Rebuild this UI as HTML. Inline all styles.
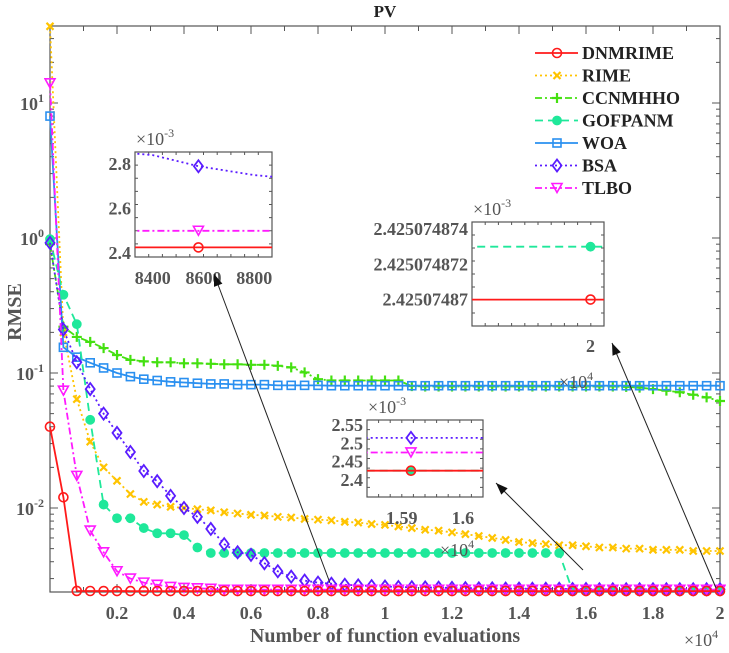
<!DOCTYPE html>
<html><head><meta charset="utf-8"><style>
html,body{margin:0;padding:0;background:#fff;}
svg{display:block;font-family:"Liberation Serif",serif;font-weight:bold;}
</style></head><body>
<svg id="chart" width="729" height="653" viewBox="0 0 729 653" xmlns="http://www.w3.org/2000/svg">
<rect width="729" height="653" fill="#fff"/>
<text x="385" y="17" text-anchor="middle" font-size="17" fill="#222">PV</text>
<g id="plot"></g>
<text x="385" y="642" text-anchor="middle" font-size="20" fill="#555">Number of function evaluations</text>
<text transform="translate(21,312) rotate(-90)" text-anchor="middle" font-size="20" fill="#555">RMSE</text>
<text x="684" y="646" font-size="18" fill="#555" font-weight="normal">×10<tspan dy="-8" font-size="12">4</tspan></text>
</svg>
<script>
const evals=[0,400,800,1200,1600,2000,2400,2800,3200,3600,4000,4400,4800,5200,5600,6000,6400,6800,7200,7600,8000,8400,8800,9200,9600,10000,10400,10800,11200,11600,12000,12400,12800,13200,13600,14000,14400,14800,15200,15600,16000,16400,16800,17200,17600,18000,18400,18800,19200,19600,20000];
const dnmrime=[0.040,0.012,0.00243,0.002428,0.002427,0.002426,0.002425,0.002425,0.002425,0.002425,0.002425,0.002425,0.002425,0.002425,0.002425,0.002425,0.002425,0.002425,0.002425,0.002425,0.002425,0.002425,0.002425,0.002425,0.002425,0.002425,0.002425,0.002425,0.002425,0.002425,0.002425,0.002425,0.002425,0.002425,0.002425,0.002425,0.002425,0.002425,0.002425,0.002425,0.002425,0.002425,0.002425,0.002425,0.002425,0.002425,0.002425,0.002425,0.002425,0.002425,0.002425];
const rime=[37,0.2,0.064,0.031,0.020,0.0159,0.0127,0.0111,0.0106,0.0102,0.0100,0.0098,0.0096,0.0093,0.0091,0.0089,0.0088,0.0086,0.0085,0.0083,0.0082,0.0081,0.0079,0.0078,0.0076,0.0075,0.0073,0.0071,0.0069,0.0068,0.0066,0.0064,0.0062,0.0060,0.0058,0.0056,0.0055,0.0054,0.0053,0.0053,0.0052,0.0051,0.0051,0.0050,0.0050,0.0049,0.0049,0.0049,0.0048,0.0048,0.0048];
const ccnmhho=[0.9,0.22,0.185,0.17,0.153,0.136,0.125,0.122,0.12,0.12,0.118,0.118,0.117,0.116,0.116,0.115,0.115,0.113,0.11,0.101,0.090,0.088,0.088,0.088,0.088,0.088,0.088,0.080,0.0795,0.0795,0.0795,0.0795,0.0795,0.0795,0.0795,0.0795,0.0795,0.0795,0.0795,0.0795,0.0795,0.0795,0.0795,0.079,0.078,0.076,0.074,0.072,0.069,0.066,0.062];
const gofpanm=[0.98,0.38,0.23,0.045,0.0106,0.0084,0.0084,0.0071,0.0065,0.0065,0.0063,0.0051,0.00464,0.00464,0.00464,0.00464,0.00464,0.00464,0.00464,0.00464,0.00464,0.00464,0.00464,0.00464,0.00464,0.00464,0.00464,0.00464,0.00464,0.00464,0.00464,0.00464,0.00464,0.00464,0.00464,0.00464,0.00464,0.00464,0.00464,0.002425,0.002425,0.002425,0.002425,0.002425,0.002425,0.002425,0.002425,0.002425,0.002425,0.002425,0.002425];
const woa=[8.0,0.155,0.131,0.119,0.109,0.100,0.094,0.090,0.088,0.086,0.085,0.084,0.083,0.083,0.082,0.082,0.082,0.081,0.081,0.081,0.081,0.0805,0.0805,0.0805,0.0805,0.0805,0.0805,0.0805,0.0805,0.0805,0.0805,0.0805,0.0805,0.0805,0.0805,0.0805,0.0805,0.0805,0.0805,0.0805,0.0805,0.0805,0.0805,0.0805,0.0805,0.0805,0.0805,0.0805,0.0805,0.0805,0.0805];
const bsa=[0.92,0.21,0.12,0.076,0.050,0.036,0.026,0.0188,0.0158,0.0123,0.0100,0.0086,0.0070,0.0054,0.0047,0.0045,0.0039,0.0034,0.0031,0.0029,0.0028,0.00275,0.0027,0.00267,0.00264,0.00262,0.0026,0.00259,0.00258,0.00257,0.00256,0.00255,0.00254,0.00254,0.00253,0.00253,0.00252,0.00252,0.00252,0.00251,0.00251,0.0025,0.0025,0.0025,0.0025,0.0025,0.0025,0.0025,0.0025,0.0025,0.0025];
const tlbo=[14,0.074,0.0173,0.0068,0.0047,0.0034,0.0030,0.0028,0.0027,0.0026,0.00256,0.00254,0.00252,0.00248,0.00248,0.00248,0.00248,0.00248,0.00248,0.00248,0.00248,0.00248,0.00248,0.00248,0.00248,0.00248,0.00248,0.00248,0.00248,0.00248,0.00248,0.00248,0.00248,0.00248,0.00248,0.00248,0.00248,0.00248,0.00248,0.00248,0.00248,0.00248,0.00248,0.00248,0.00248,0.00248,0.00248,0.00248,0.00248,0.00248,0.00248];
const seriesNames=["DNMRIME","RIME","CCNMHHO","GOFPANM","WOA","BSA","TLBO"];
const xTickValues=[2000,4000,6000,8000,10000,12000,14000,16000,18000,20000];
const xTickLabels=["0.2","0.4","0.6","0.8","1","1.2","1.4","1.6","1.8","2"];
const yTickExps=[-2,-1,0,1];
const inset1X=[8300,8400,8580,8800,8900];
const inset1Bsa=[2.85,2.84,2.79,2.75,2.74];
const inset1Tlbo=[2.50,2.50,2.50,2.50,2.50];
const inset1Dnm=[2.425,2.425,2.425,2.425,2.425];
const inset2X=[1.58,1.5915,1.61];
const inset2Bsa=[2.515,2.515,2.515];
const inset2Tlbo=[2.475,2.475,2.475];
const inset2Gof=[2.425,2.425,2.425];
const inset2Dnm=[2.425,2.425,2.425];
const inset3X=[14000,20000,21000];
const inset3Gof=[3.0,3.0,3.0];
const inset3Dnm=[0.0,0.0,0.0];

const NS="http://www.w3.org/2000/svg";
const plot=document.getElementById('plot');
function mk(tag,attrs,parent){const e=document.createElementNS(NS,tag);for(const k in attrs)e.setAttribute(k,attrs[k]);(parent||plot).appendChild(e);return e;}
const L=50,R=720,T=26,B=592;
function X(v){return L+v/20000*(R-L);}
function Y(v){return 238-135*Math.log10(v);}
const FS=18;
const styles={
 DNMRIME:{c:"#ff1a1a",dash:"",m:"circle"},
 RIME:{c:"#ffc400",dash:"2,3",m:"x"},
 CCNMHHO:{c:"#44e010",dash:"7,3,2,3",m:"plus"},
 GOFPANM:{c:"#1fe89a",dash:"8,5",m:"dot"},
 WOA:{c:"#2a90f0",dash:"",m:"square"},
 BSA:{c:"#5a1cff",dash:"2,3",m:"diamond"},
 TLBO:{c:"#ff1aff",dash:"7,3,2,3",m:"tri"}
};
function marker(g,type,x,y,c,s){
 s=s||4.5;
 if(type==="circle")mk('circle',{cx:x,cy:y,r:s,fill:"none",stroke:c,"stroke-width":1.6},g);
 else if(type==="x")mk('path',{d:`M${x-3.5},${y-3.5}L${x+3.5},${y+3.5}M${x-3.5},${y+3.5}L${x+3.5},${y-3.5}`,stroke:c,"stroke-width":2.2,fill:"none"},g);
 else if(type==="plus")mk('path',{d:`M${x-5},${y}L${x+5},${y}M${x},${y-5}L${x},${y+5}`,stroke:c,"stroke-width":2.2,fill:"none"},g);
 else if(type==="dot")mk('circle',{cx:x,cy:y,r:s,fill:c,stroke:c,"stroke-width":0.8},g);
 else if(type==="square")mk('rect',{x:x-s+0.5,y:y-s+0.5,width:2*s-1,height:2*s-1,fill:"none",stroke:c,"stroke-width":1.6},g);
 else if(type==="diamond")mk('path',{d:`M${x},${y-s-1.5}L${x+s},${y}L${x},${y+s+1.5}L${x-s},${y}Z`,fill:"none",stroke:c,"stroke-width":1.8},g);
 else if(type==="tri")mk('path',{d:`M${x-s-0.5},${y-s}L${x+s+0.5},${y-s}L${x},${y+s}Z`,fill:"none",stroke:c,"stroke-width":1.6},g);
}
const axc="#555";
const ax=mk('g',{});


mk('rect',{x:L,y:T,width:R-L,height:B-T,fill:"none",stroke:axc,"stroke-width":1.2},ax);
for(let v=1000;v<20000;v+=1000){
 const x=X(v),len=(v%2000===0)?8:5;
 mk('line',{x1:x,y1:B,x2:x,y2:B-len,stroke:axc,"stroke-width":1},ax);
 mk('line',{x1:x,y1:T,x2:x,y2:T+len,stroke:axc,"stroke-width":1},ax);
}
xTickValues.forEach((v,i)=>{
 const t=mk('text',{x:X(v),y:619,"text-anchor":"middle","font-size":FS,fill:axc},ax);
 
 
 t.textContent=xTickLabels[i];
});
for(let e=-3;e<=1;e++){
 for(let k=1;k<10;k++){
  const v=k*Math.pow(10,e),y=Y(v);
  if(y<T||y>B)continue;
  const len=k===1?8:4;
  mk('line',{x1:L,y1:y,x2:L+len,y2:y,stroke:axc,"stroke-width":1},ax);
  mk('line',{x1:R,y1:y,x2:R-len,y2:y,stroke:axc,"stroke-width":1},ax);
 }
}
yTickExps.forEach(e=>{
 const t=mk('text',{x:44,y:Y(Math.pow(10,e))+7,"text-anchor":"end","font-size":FS,fill:axc},ax);
 
 
 t.innerHTML='10<tspan dy="-8" font-size="12">'+e+'</tspan>';
});
const dataMap={DNMRIME:dnmrime,RIME:rime,CCNMHHO:ccnmhho,GOFPANM:gofpanm,WOA:woa,BSA:bsa,TLBO:tlbo};
const drawOrder=["RIME","CCNMHHO","WOA","GOFPANM","BSA","TLBO","DNMRIME"];
const clip=mk('clipPath',{id:"pc"});mk('rect',{x:L-6,y:T-6,width:R-L+12,height:B-T+12},clip);
drawOrder.forEach(n=>{
 const st=styles[n],vals=dataMap[n];
 const g=mk('g',{"clip-path":"url(#pc)"});
 
 
 const pts=vals.map((v,i)=>X(evals[i]).toFixed(1)+','+Y(v).toFixed(1)).join(' ');
 mk('polyline',{points:pts,fill:"none",stroke:st.c,"stroke-width":1.8,"stroke-dasharray":st.dash},g);
 vals.forEach((v,i)=>marker(g,st.m,X(evals[i]),Y(v),st.c));
});
const lg=mk('g',{});


seriesNames.forEach((n,i)=>{
 const st=styles[n],y=53+i*22.5;
 const e=mk('g',{},lg);
 
 
 mk('line',{x1:535,y1:y,x2:578,y2:y,stroke:st.c,"stroke-width":1.8,"stroke-dasharray":st.dash},e);
 marker(e,st.m,557,y,st.c);
 const t=mk('text',{x:582,y:y+6,"font-size":FS,fill:"#222"},e);
 t.textContent=n;
});
function inset(name,bx,by,bw,bh,xd,yd,series,xt,yt,xlab,ylab){
 const g=mk('g',{});
 
 
 mk('rect',{x:bx,y:by,width:bw,height:bh,fill:"#fff",stroke:axc,"stroke-width":1.2},g);
 const ix=v=>bx+(v-xd[0])/(xd[1]-xd[0])*bw;
 const iy=v=>by+bh-(v-yd[0])/(yd[1]-yd[0])*bh;
 for(let k=1;k<10;k++){const x=bx+bw*k/10;mk('line',{x1:x,y1:by+bh,x2:x,y2:by+bh-3,stroke:axc},g);mk('line',{x1:x,y1:by,x2:x,y2:by+3,stroke:axc},g);}
 for(let k=1;k<8;k++){const y=by+bh*k/8;mk('line',{x1:bx,y1:y,x2:bx+3,y2:y,stroke:axc},g);mk('line',{x1:bx+bw,y1:y,x2:bx+bw-3,y2:y,stroke:axc},g);}
 const cp=mk('clipPath',{id:name+'c'},g);mk('rect',{x:bx,y:by-6,width:bw,height:bh+12},cp);
 const sg=mk('g',{"clip-path":"url(#"+name+"c)"},g);
 series.forEach(s=>{
  const st=styles[s.n];
  const pts=s.v.map((v,i)=>ix(s.x[i]).toFixed(1)+','+iy(v).toFixed(1)).join(' ');
  mk('polyline',{points:pts,fill:"none",stroke:st.c,"stroke-width":1.8,"stroke-dasharray":st.dash},sg);
  marker(sg,st.m,ix(s.x[s.mi]),iy(s.v[s.mi]),st.c);
 });
 xt.forEach((v,i)=>{const t=mk('text',{x:ix(v),y:by+bh+27,"text-anchor":"middle","font-size":FS,fill:axc},g);t.textContent=xlab[i];});
 yt.forEach((v,i)=>{const t=mk('text',{x:bx-4,y:iy(v)+6,"text-anchor":"end","font-size":FS,fill:axc},g);t.textContent=ylab[i];});
 const ex=mk('text',{x:bx+1,y:by-7,"font-size":18,fill:axc,"font-weight":"normal"},g);
 ex.innerHTML='×10<tspan dy="-8" font-size="12">-3</tspan>';
 return g;
}
inset('inset-left',135,152,137,105,[8330,8870],[2.382,2.854],[
 {n:"DNMRIME",x:inset1X,v:inset1Dnm,mi:2},{n:"TLBO",x:inset1X,v:inset1Tlbo,mi:2},{n:"BSA",x:inset1X,v:inset1Bsa,mi:2}],
 [8400,8600,8800],[2.4,2.6,2.8],["8400","8600","8800"],["2.4","2.6","2.8"]);
inset('inset-middle',367,420,116,77,[1.5843,1.6033],[2.353,2.564],[
 {n:"GOFPANM",x:inset2X,v:inset2Gof,mi:1},{n:"DNMRIME",x:inset2X,v:inset2Dnm,mi:1},{n:"TLBO",x:inset2X,v:inset2Tlbo,mi:1},{n:"BSA",x:inset2X,v:inset2Bsa,mi:1}],
 [1.59,1.6],[2.4,2.45,2.5,2.55],["1.59","1.6"],["2.4","2.45","2.5","2.55"]);
inset('inset-right',472,222,132,104,[14370,20640],[-1.5,4.4],[
 {n:"GOFPANM",x:inset3X,v:inset3Gof,mi:1},{n:"DNMRIME",x:inset3X,v:inset3Dnm,mi:1}],
 [],[0,2,4],[],["2.42507487","2.425074872","2.425074874"]);
function lbl(name,x,y,html,fs,fw){const t=mk('text',{x:x,y:y,"font-size":fs||FS,fill:axc,"font-weight":fw||"bold"});t.innerHTML=html;}
lbl('inset-middle-x-exponent',440,556,'×10<tspan dy="-8" font-size="12">4</tspan>',18,'normal');
lbl('inset-right-x-exponent',559,388,'×10<tspan dy="-8" font-size="12">4</tspan>',18,'normal');
lbl('inset-right-x-tick',586,352,'2');
const ag=mk('g',{});


function arrow(x1,y1,x2,y2){
 mk('line',{x1:x1,y1:y1,x2:x2,y2:y2,stroke:"#222","stroke-width":1},ag);
 const a=Math.atan2(y2-y1,x2-x1),h=12,w=4.5;
 const bx=x2-h*Math.cos(a),by=y2-h*Math.sin(a);
 mk('path',{d:`M${x2},${y2}L${bx+w*Math.sin(a)},${by-w*Math.cos(a)}L${bx-w*Math.sin(a)},${by+w*Math.cos(a)}Z`,fill:"#111"},ag);
}
arrow(330,583,214,274);
arrow(583,570,496,483);
arrow(716,588,612,343);
</script>
</body></html>
